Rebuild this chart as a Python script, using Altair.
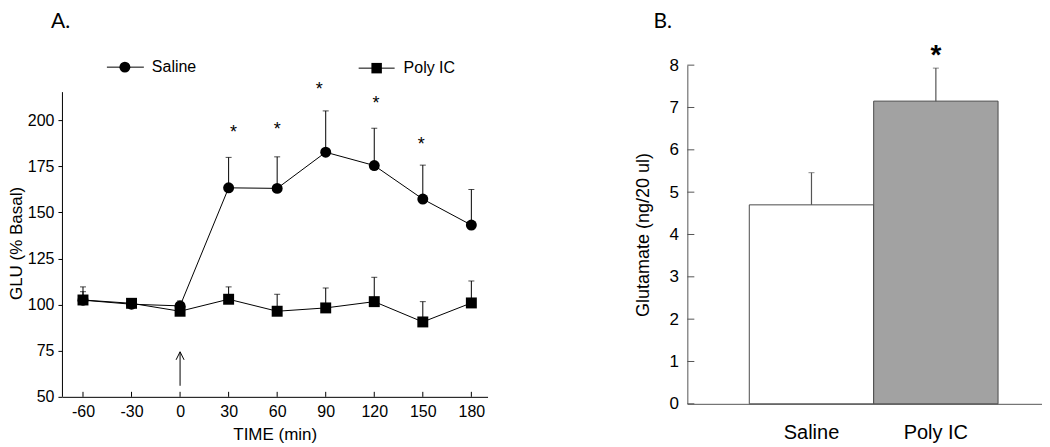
import altair as alt
import pandas as pd

# ---------------- Panel A data ----------------
time_min = [-60, -30, 0, 30, 60, 90, 120, 150, 180]
saline_mean = [102.4, 100.2, 99.3, 163.3, 163.0, 182.6, 175.4, 157.2, 143.1]
saline_upper = [109.6, 101.5, 102.0, 179.8, 180.1, 205.0, 195.6, 175.6, 162.4]
poly_mean = [102.5, 100.7, 96.4, 102.9, 96.4, 98.2, 101.6, 90.6, 100.9]
poly_upper = [107.0, 101.5, 97.5, 109.6, 105.6, 109.0, 114.8, 101.6, 112.8]
star_time = [33, 60, 86, 121, 149]
star_value = [195.1, 196.7, 218.4, 210.8, 188.6]
arrow_time = [0]
arrow_from = [56.0]
arrow_to = [74.4]
y_ticks_a = [50, 75, 100, 125, 150, 175, 200]

# ---------------- Panel B data ----------------
groups = ["Saline", "Poly IC"]
glu_mean = [4.70, 7.15]
glu_upper = [5.46, 7.93]
star_b_value = [8.38]
y_ticks_b = [0, 1, 2, 3, 4, 5, 6, 7, 8]

FONT = "Liberation Sans"

series = []
for g, m, u in [("Saline", saline_mean, saline_upper), ("Poly IC", poly_mean, poly_upper)]:
    for t, mv, uv in zip(time_min, m, u):
        series.append({"time": t, "group": g, "mean": mv, "upper": uv})
df_a = pd.DataFrame(series)
df_star = pd.DataFrame({"time": star_time, "value": star_value})
df_arrow = pd.DataFrame({"time": arrow_time, "y0": arrow_from, "y1": arrow_to})
df_xt = pd.DataFrame({"time": time_min})
one = pd.DataFrame({"k": [0]})

# Both panels share the same plot top; panel A's visible y-axis line starts lower
WA, HA = 426, 332
AXIS_TOP_A = 27
xa = alt.Scale(domain=[-73, 190], nice=False, zero=False)
ya = alt.Scale(domain=[50, 229.8], nice=False, zero=False)

X = alt.X("time:Q", scale=xa,
          axis=alt.Axis(values=time_min, ticks=False, domainColor="black", labelColor="black",
                        labelFontSize=16, labelPadding=7, title="TIME (min)", titleFontSize=17,
                        titleFontWeight="normal", titlePadding=7, titleColor="black", labelFlush=False,
                        labelExpr="datum.value + ''"))
Y = alt.Y("mean:Q", scale=ya,
          axis=alt.Axis(values=y_ticks_a, tickSize=4, tickColor="black", domain=False,
                        labelColor="black", labelFontSize=16, labelPadding=4, title="GLU (% Basal)",
                        titleFontSize=17, titleFontWeight="normal", titleX=-36, titleY=178,
                        titleColor="black"))

base = alt.Chart(df_a)
err = base.mark_rule(color="black", strokeWidth=1).encode(x=X, y=Y, y2="upper:Q")
caps = base.mark_tick(orient="horizontal", size=6, thickness=1, color="black").encode(
    x=alt.X("time:Q", scale=xa), y=alt.Y("upper:Q", scale=ya))
lines = base.mark_line(color="black", strokeWidth=1).encode(x=X, y=Y, detail="group:N")
pts = base.mark_point(filled=True, color="black", opacity=1, size=120).encode(
    x=X, y=Y,
    shape=alt.Shape("group:N", scale=alt.Scale(domain=["Saline", "Poly IC"], range=["circle", "square"]),
                    legend=None))
stars = alt.Chart(df_star).mark_text(text="*", fontSize=18, font=FONT, baseline="middle", dy=4).encode(
    x=alt.X("time:Q", scale=xa), y=alt.Y("value:Q", scale=ya))
arrow_line = alt.Chart(df_arrow).mark_rule(color="black", strokeWidth=1).encode(
    x=alt.X("time:Q", scale=xa), y=alt.Y("y0:Q", scale=ya), y2="y1:Q")
arrow_head = alt.Chart(df_arrow).mark_point(shape="M-1,1L0,-1L1,1", size=64, filled=False,
                                            color="black", strokeWidth=1, opacity=1).encode(
    x=alt.X("time:Q", scale=xa), y=alt.Y("y1:Q", scale=ya), yOffset=alt.value(4))
xticks = alt.Chart(df_xt).mark_rule(color="black", strokeWidth=1).encode(
    x=alt.X("time:Q", scale=xa), y=alt.value(HA), y2=alt.value(HA - 5))
y_axis_line = alt.Chart(one).mark_rule(color="black", strokeWidth=1).encode(
    x=alt.value(0.5), y=alt.value(AXIS_TOP_A), y2=alt.value(HA))

# legend (manual)
LY = 2
leg_line_s = alt.Chart(one).mark_rule(color="black", strokeWidth=1).encode(
    x=alt.value(45), x2=alt.value(82), y=alt.value(LY))
leg_pt_s = alt.Chart(one).mark_point(shape="circle", filled=True, color="black", opacity=1, size=120).encode(
    x=alt.value(63), y=alt.value(LY))
leg_txt_s = alt.Chart(one).mark_text(text="Saline", fontSize=16, font=FONT, align="left", baseline="middle").encode(
    x=alt.value(90), y=alt.value(LY))
leg_line_p = alt.Chart(one).mark_rule(color="black", strokeWidth=1).encode(
    x=alt.value(297), x2=alt.value(333), y=alt.value(LY + 1))
leg_pt_p = alt.Chart(one).mark_point(shape="square", filled=True, color="black", opacity=1, size=110).encode(
    x=alt.value(315), y=alt.value(LY + 1))
leg_txt_p = alt.Chart(one).mark_text(text="Poly IC", fontSize=16, font=FONT, align="left", baseline="middle").encode(
    x=alt.value(342), y=alt.value(LY + 1))
label_a = alt.Chart(one).mark_text(text="A.", fontSize=21, font="Lato", align="left", baseline="alphabetic").encode(
    x=alt.value(-11), y=alt.value(-37))

panel_a = alt.layer(err, caps, lines, pts, stars, arrow_line, arrow_head, xticks, y_axis_line,
                    leg_line_s, leg_pt_s, leg_txt_s, leg_line_p, leg_pt_p, leg_txt_p, label_a
                    ).properties(width=WA, height=HA)

# ---------------- Panel B ----------------
WB, HB = 355, 339
df_b = pd.DataFrame({"group": groups, "mean": glu_mean, "upper": glu_upper})
df_bt = pd.DataFrame({"v": y_ticks_b})
df_bs = pd.DataFrame({"group": [groups[1]], "value": star_b_value})

xb = alt.Scale(domain=groups, paddingInner=0, paddingOuter=0.4257, align=0.585)
yb = alt.Scale(domain=[0, 8], nice=False)
XB = alt.X("group:N", scale=xb, sort=groups,
           axis=alt.Axis(ticks=False, domainColor="#555555", labelColor="black", labelFontSize=20,
                         labelPadding=19, labelAngle=0, title=None))
YB = alt.Y("mean:Q", scale=yb,
           axis=alt.Axis(values=y_ticks_b, ticks=False, domainColor="#555555", labelColor="black",
                         labelFontSize=17, labelPadding=9, title="Glutamate (ng/20 ul)", titleFontSize=18,
                         titleFontWeight="normal", titleX=-35, titleColor="black"))

bars = alt.Chart(df_b).mark_bar(stroke="#4a4a4a", strokeWidth=1).encode(
    x=XB, y=YB,
    fill=alt.Fill("group:N", scale=alt.Scale(domain=groups, range=["#ffffff", "#a2a2a2"]), legend=None))
err_b = alt.Chart(df_b).mark_rule(color="#555555", strokeWidth=1.2).encode(
    x=alt.X("group:N", scale=xb, sort=groups), y=alt.Y("mean:Q", scale=yb), y2="upper:Q")
cap_b = alt.Chart(df_b).mark_tick(orient="horizontal", size=6, thickness=1, color="#555555").encode(
    x=alt.X("group:N", scale=xb, sort=groups), y=alt.Y("upper:Q", scale=yb))
ticks_b = alt.Chart(df_bt).mark_rule(color="#555555", strokeWidth=1).encode(
    y=alt.Y("v:Q", scale=yb), x=alt.value(0), x2=alt.value(7))
star_b = alt.Chart(df_bs).mark_text(text="*", fontSize=28, fontWeight="bold", font=FONT, baseline="middle", dy=7).encode(
    x=alt.X("group:N", scale=xb, sort=groups), y=alt.Y("value:Q", scale=yb))
label_b = alt.Chart(one).mark_text(text="B.", fontSize=21, font="Lato", align="left", baseline="alphabetic").encode(
    x=alt.value(-34), y=alt.value(-37))

panel_b = alt.layer(bars, err_b, cap_b, ticks_b, star_b, label_b).properties(width=WB, height=HB)

chart = alt.hconcat(panel_a, panel_b, spacing=147).properties(
    padding={"top": 3, "left": 0, "right": 0, "bottom": 0}).configure_view(
    strokeWidth=0).configure_axis(grid=False, labelFont=FONT, titleFont=FONT).configure_text(font=FONT)

chart.save("out.html", embed_options={"renderer": "svg", "actions": False})
